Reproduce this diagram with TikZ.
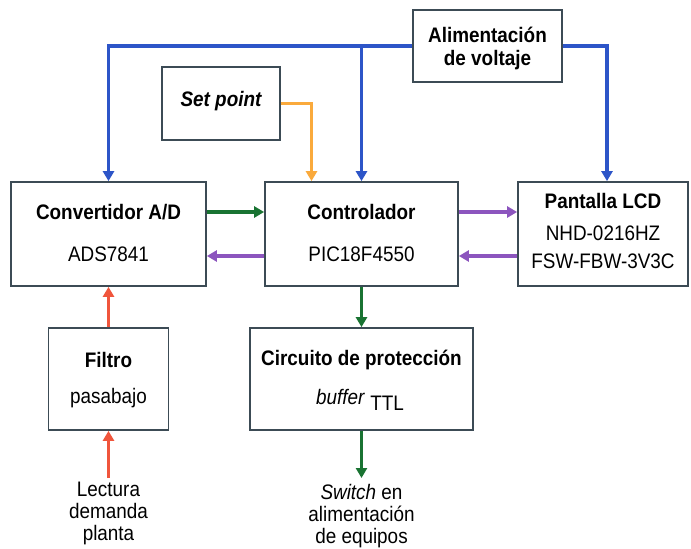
\documentclass[tikz,border=0pt]{standalone}
\usepackage{fontspec}
\setmainfont{Liberation Sans}[FakeStretch=0.9]
\usetikzlibrary{arrows.meta}
\definecolor{cblue}{RGB}{45,85,200}
\definecolor{corange}{RGB}{250,170,60}
\definecolor{cgreen}{RGB}{25,115,50}
\definecolor{cpurple}{RGB}{140,85,190}
\definecolor{cred}{RGB}{240,85,60}
\definecolor{cbox}{RGB}{60,75,85}
\tikzset{
  blk/.style={draw=cbox, line width=1.7pt, fill=white, inner sep=0pt},
  ttl/.style={font=\fontsize{21}{24}\selectfont\bfseries, inner sep=0pt},
  txt/.style={font=\fontsize{21}{24}\selectfont, inner sep=0pt},
  arr/.style={line width=3.4pt, -{Triangle[width=11pt,length=10pt]}},
}
\begin{document}
\begin{tikzpicture}[x=1pt,y=-1pt]
\useasboundingbox (0,0) rectangle (691,549);
% boxes
\node[blk, minimum width=149pt, minimum height=72pt] (alim) at (487.5,46) {};
\node[blk, minimum width=118pt, minimum height=73pt] (setp) at (221,103.5) {};
\node[blk, minimum width=195pt, minimum height=104pt] (conv) at (108.5,234) {};
\node[blk, minimum width=193pt, minimum height=104pt] (ctrl) at (361.5,234) {};
\node[blk, minimum width=170pt, minimum height=104pt] (lcd) at (603,234) {};
\node[blk, minimum width=120pt, minimum height=102pt] (filt) at (108.5,379) {};
\node[blk, minimum width=223pt, minimum height=102pt] (circ) at (361.5,379) {};
% texts
\node[ttl] (t1) at (487.5,35) {Alimentación};
\node[ttl] (t2) at (487.5,60) {de voltaje};
\node[ttl] (t3) at (221,101) {\itshape Set point};
\node[ttl] (t4) at (108.5,212) {Convertidor A/D};
\node[txt] (t5) at (108.5,254) {ADS7841};
\node[ttl] (t6) at (361.5,212) {Controlador};
\node[txt] (t7) at (361.5,254) {PIC18F4550};
\node[ttl] (t8) at (603,201) {Pantalla LCD};
\node[txt] (t9) at (603,233) {NHD-0216HZ};
\node[txt] (t10) at (603,261) {FSW-FBW-3V3C};
\node[ttl] (t11) at (108.5,360) {Filtro};
\node[txt] (t12) at (108.5,398) {pasabajo};
\node[ttl] (t13) at (361.5,360) {Circuito de protección};
\node[txt] (t14) at (360,400) {\textit{buffer}\ \raisebox{-6pt}{TTL}};
\node[txt, align=center, font=\fontsize{21}{22}\selectfont, anchor=north] (lect) at (108.5,482) {Lectura\\demanda\\planta};
\node[txt, align=center, font=\fontsize{21}{22}\selectfont, anchor=north] (sw) at (361.5,484) {\textit{Switch} en\\alimentación\\de equipos};
\coordinate (lin) at (108.5,478);
\coordinate (sout) at (361.5,478);
% connectors
\draw[arr, cblue] (alim.west) -| (conv.north);
\draw[arr, cblue] (alim.west) -| (ctrl.north);
\draw[arr, cblue] (alim.east) -| ([xshift=4pt]lcd.north);
\draw[arr, corange] (setp.east) -| ([xshift=-50pt]ctrl.north);
\draw[arr, cgreen] ([yshift=22pt]conv.east) -- ([yshift=22pt]ctrl.west);
\draw[arr, cpurple] ([yshift=-22pt]ctrl.west) -- ([yshift=-22pt]conv.east);
\draw[arr, cpurple] ([yshift=22pt]ctrl.east) -- ([yshift=22pt]lcd.west);
\draw[arr, cpurple] ([yshift=-22pt]lcd.west) -- ([yshift=-22pt]ctrl.east);
\draw[arr, cgreen] (ctrl.south) -- (circ.north);
\draw[arr, cred] (filt.north) -- (conv.south);
\draw[arr, cred] (lin) -- (filt.south);
\draw[arr, cgreen] (circ.south) -- (sout);
\end{tikzpicture}
\end{document}
